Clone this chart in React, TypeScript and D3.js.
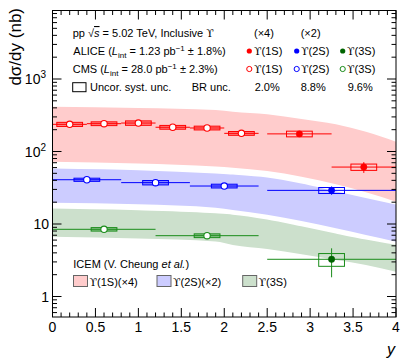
import React from 'react';
import * as d3 from 'd3';

const W = 407, H = 363;
const plotLeft = 52.5, plotRight = 396, plotTop = 10.5, plotBottom = 317;

// axis domains
const xDomain: [number, number] = [0, 4];
const yDomain: [number, number] = [0.5215, 8808];
const xMajorTicks = [0, 0.5, 1, 1.5, 2, 2.5, 3, 3.5, 4];
const xTickLabels = ['0', '0.5', '1', '1.5', '2', '2.5', '3', '3.5', '4'];
const yMajorTicks = [1, 10, 100, 1000];

// ICEM model bands
const bandY = [0, 1, 1.9, 2.1, 2.5, 2.9, 3.3, 3.65, 4];
const band1SHigh = [415, 398, 374, 354, 326, 281, 237, 187, 136];
const band1SLow = [72.3, 68.3, 62.1, 59.8, 53.8, 44.9, 35.3, 27.4, 20.3];
const band2SHigh = [60.5, 57.4, 51.6, 50.0, 45.5, 37.6, 29.4, 23.8, 19.3];
const band2SLow = [19.7, 18.7, 16.7, 15.6, 13.4, 11.0, 8.73, 7.05, 5.7];
const band3SHigh = [17.0, 16.1, 14.6, 14.0, 12.0, 9.68, 7.69, 6.35, 5.38];
const band3SLow = [6.68, 6.31, 5.74, 5.13, 4.52, 3.82, 3.18, 2.72, 2.2];

// CMS (open markers)
const cms1SY = [0.2, 0.6, 1.0, 1.4, 1.8, 2.2];
const cms1SHalfBin = [0.2, 0.2, 0.2, 0.2, 0.2, 0.2];
const cms1SVal = [237, 242, 247, 216, 211, 178];
const cms1SSyst = [0.065, 0.06, 0.07, 0.06, 0.06, 0.06];
const cms2SY = [0.4, 1.2, 2.0];
const cms2SHalfBin = [0.4, 0.4, 0.4];
const cms2SVal = [40.8, 37.2, 33.4];
const cms2SSyst = [0.05, 0.07, 0.06];
const cms3SY = [0.6, 1.8];
const cms3SHalfBin = [0.6, 0.6];
const cms3SVal = [8.45, 6.9];
const cms3SSyst = [0.055, 0.06];

// ALICE (filled markers)
const alice1SY = [2.875, 3.625];
const alice1SHalfBin = [0.375, 0.375];
const alice1SVal = [175, 61];
const alice1SStat = [0.05, 0.17];
const alice1SSyst = [0.09, 0.1];
const alice2SY = [3.25];
const alice2SHalfBin = [0.75];
const alice2SVal = [29.1];
const alice2SStat = [0.13];
const alice2SSyst = [0.095];
const alice3SY = [3.25];
const alice3SHalfBin = [0.75];
const alice3SVal = [3.26];
const alice3SStatUp = [1.36];
const alice3SStatDown = [1.42];
const alice3SSyst = [0.2];

const RED = '#ff0000';
const BLUE = '#0000ff';
const GREEN = '#1a8c1a';
const GREEN_DARK = '#006400';
const RED_BAND = '#ffcccc';
const BLUE_BAND = '#ccccff';
const GREEN_BAND = '#cce0cc';

const FONT = '"Liberation Sans", Arial, Helvetica, sans-serif';
const SERIF = '"DejaVu Serif", "Liberation Serif", serif';
const UPS = '\u03D2';

const x = d3.scaleLinear().domain(xDomain).range([plotLeft, plotRight]);
const y = d3.scaleLog().domain(yDomain).range([plotBottom, plotTop]);

function bandPath(hi: number[], lo: number[]) {
  const pts = bandY.map((v, i) => ({ v, hi: hi[i], lo: lo[i] }));
  const area = d3.area<any>().x(d => x(d.v)).y0(d => y(d.lo)).y1(d => y(d.hi)).curve(d3.curveMonotoneX);
  return area(pts) || '';
}
function edgePath(vals: number[]) {
  const pts = bandY.map((v, i) => [x(v), y(vals[i])] as [number, number]);
  return d3.line().curve(d3.curveMonotoneX)(pts) || '';
}

function CmsSeries({ ys, half, vals, syst, color }: any) {
  return (
    <g>
      {ys.map((yy: number, i: number) => {
        const cx = x(yy), cy = y(vals[i]);
        return (
          <g key={i}>
            <line x1={x(yy - half[i])} x2={x(yy + half[i])} y1={cy} y2={cy} stroke={color} strokeWidth={1} />
            <rect x={x(yy - 0.15)} width={x(0.3) - x(0)} y={y(vals[i] * (1 + syst[i]))}
              height={y(vals[i] * (1 - syst[i])) - y(vals[i] * (1 + syst[i]))}
              fill={color} fillOpacity={0.35} stroke={color} strokeWidth={1} />
            <circle cx={cx} cy={cy} r={3.2} fill="white" stroke={color} strokeWidth={1.1} />
          </g>
        );
      })}
    </g>
  );
}

function AliceSeries({ ys, half, vals, statUp, statDown, syst, color, markerColor }: any) {
  return (
    <g>
      {ys.map((yy: number, i: number) => {
        const cx = x(yy), cy = y(vals[i]);
        return (
          <g key={i}>
            <rect x={x(yy - 0.15)} width={x(0.3) - x(0)} y={y(vals[i] * (1 + syst[i]))}
              height={y(vals[i] * (1 - syst[i])) - y(vals[i] * (1 + syst[i]))}
              fill="none" stroke={color} strokeWidth={1} />
            <line x1={x(yy - half[i])} x2={x(yy + half[i])} y1={cy} y2={cy} stroke={color} strokeWidth={1} />
            <line x1={cx} x2={cx} y1={y(vals[i] + statUp[i])} y2={y(vals[i] - statDown[i])} stroke={color} strokeWidth={1} />
            <circle cx={cx} cy={cy} r={3.2} fill={markerColor} stroke={markerColor} strokeWidth={0.5} />
          </g>
        );
      })}
    </g>
  );
}

export default function App() {
  const xMinor = d3.range(0, 4.0001, 0.1);
  const yAllTicks = y.ticks();
  const isMajorY = (v: number) => Math.abs(Math.log10(v) - Math.round(Math.log10(v))) < 1e-6;
  const fs = 11;
  const colX = [249.3, 296.7, 342.7];
  const colT = [254, 301, 347];
  const ups = (label: string) => (
    <>
      <tspan fontFamily={SERIF}>{UPS}</tspan>
      <tspan>{label}</tspan>
    </>
  );
  return (
    <svg width={W} height={H} style={{ position: 'absolute', left: 0, top: 0, background: 'white' }} fontFamily={FONT}>
      {/* bands */}
      <path d={bandPath(band1SHigh, band1SLow)} fill={RED_BAND} />
      <path d={bandPath(band2SHigh, band2SLow)} fill={BLUE_BAND} />
      <path d={edgePath(band2SHigh)} fill="none" stroke="white" strokeWidth={2.5} />
      <path d={bandPath(band3SHigh, band3SLow)} fill={GREEN_BAND} />
      <path d={edgePath(band3SHigh)} fill="none" stroke="white" strokeWidth={2.5} />

      {/* data */}
      <CmsSeries ys={cms1SY} half={cms1SHalfBin} vals={cms1SVal} syst={cms1SSyst} color={RED} />
      <CmsSeries ys={cms2SY} half={cms2SHalfBin} vals={cms2SVal} syst={cms2SSyst} color={BLUE} />
      <CmsSeries ys={cms3SY} half={cms3SHalfBin} vals={cms3SVal} syst={cms3SSyst} color={GREEN} />
      <AliceSeries ys={alice1SY} half={alice1SHalfBin} vals={alice1SVal}
        statUp={alice1SVal.map((v, i) => v * alice1SStat[i])} statDown={alice1SVal.map((v, i) => v * alice1SStat[i])}
        syst={alice1SSyst} color={RED} markerColor={RED} />
      <AliceSeries ys={alice2SY} half={alice2SHalfBin} vals={alice2SVal}
        statUp={alice2SVal.map((v, i) => v * alice2SStat[i])} statDown={alice2SVal.map((v, i) => v * alice2SStat[i])}
        syst={alice2SSyst} color={BLUE} markerColor={BLUE} />
      <AliceSeries ys={alice3SY} half={alice3SHalfBin} vals={alice3SVal}
        statUp={alice3SStatUp} statDown={alice3SStatDown}
        syst={alice3SSyst} color={GREEN} markerColor={GREEN_DARK} />

      {/* frame */}
      <rect x={plotLeft} y={plotTop} width={plotRight - plotLeft} height={plotBottom - plotTop} fill="none" stroke="black" strokeWidth={1} />
      {/* x ticks */}
      {xMinor.map((v, i) => {
        const major = xMajorTicks.some(t => Math.abs(t - v) < 1e-6);
        const len = major ? 9 : 4.5;
        const px = x(v);
        return (
          <g key={'xt' + i}>
            <line x1={px} x2={px} y1={plotBottom} y2={plotBottom - len} stroke="black" strokeWidth={1} />
            <line x1={px} x2={px} y1={plotTop} y2={plotTop + len} stroke="black" strokeWidth={1} />
          </g>
        );
      })}
      {xMajorTicks.map((v, i) => (
        <text key={'xl' + i} x={x(v)} y={331.5} fontSize={14} textAnchor="middle">{xTickLabels[i]}</text>
      ))}
      {/* y ticks */}
      {yAllTicks.map((v, i) => {
        const len = isMajorY(v) ? 9 : 4.5;
        const py = y(v);
        return (
          <g key={'yt' + i}>
            <line x1={plotLeft} x2={plotLeft + len} y1={py} y2={py} stroke="black" strokeWidth={1} />
            <line x1={plotRight} x2={plotRight - len} y1={py} y2={py} stroke="black" strokeWidth={1} />
          </g>
        );
      })}
      {yMajorTicks.map((v, i) => {
        const e = Math.round(Math.log10(v));
        const py = y(v) + 5;
        if (e <= 1) return <text key={'yl' + i} x={49} y={py} fontSize={14} textAnchor="end">{String(v)}</text>;
        return (
          <text key={'yl' + i} x={46} y={py} fontSize={14} textAnchor="end">
            10<tspan dy={-6} fontSize={10}>{e}</tspan>
          </text>
        );
      })}
      {/* axis titles */}
      <text transform="translate(21,8) rotate(-90)" fontSize={17} textAnchor="end">d{'\u03C3'}/dy (nb)</text>
      <text x={395} y={355} fontSize={16} fontStyle="italic" textAnchor="end">y</text>

      {/* top legend */}
      <g fontSize={fs}>
        <text x={72.7} y={37}>
          pp <tspan>{'\u221A'}</tspan><tspan fontStyle="italic" style={{ textDecoration: 'overline' }}>s</tspan> = 5.02 TeV, Inclusive <tspan fontFamily={SERIF}>{UPS}</tspan>
        </text>
        <text x={254} y={37}>({'\u00D7'}4)</text>
        <text x={300.7} y={37}>({'\u00D7'}2)</text>

        <text x={73.3} y={55}>
          ALICE (<tspan fontStyle="italic">L</tspan><tspan fontSize={8} dy={3}>int</tspan><tspan dy={-3}> = 1.23 pb</tspan><tspan fontSize={8} dy={-4}>{'\u2212'}1</tspan><tspan dy={4}> {'\u00B1'} 1.8%)</tspan>
        </text>
        <text x={72.7} y={73}>
          CMS (<tspan fontStyle="italic">L</tspan><tspan fontSize={8} dy={3}>int</tspan><tspan dy={-3}> = 28.0 pb</tspan><tspan fontSize={8} dy={-4}>{'\u2212'}1</tspan><tspan dy={4}> {'\u00B1'} 2.3%)</tspan>
        </text>
        {[RED, BLUE, GREEN_DARK].map((c, i) => (
          <g key={'la' + i}>
            <circle cx={colX[i]} cy={51} r={2.6} fill={c} />
            <text x={colT[i]} y={55}>{ups(['(1S)', '(2S)', '(3S)'][i])}</text>
          </g>
        ))}
        {[RED, BLUE, GREEN].map((c, i) => (
          <g key={'lc' + i}>
            <circle cx={colX[i]} cy={69} r={2.6} fill="white" stroke={c} strokeWidth={1} />
            <text x={colT[i]} y={73}>{ups(['(1S)', '(2S)', '(3S)'][i])}</text>
          </g>
        ))}
        <rect x={72.7} y={82.7} width={13.3} height={9} fill="none" stroke="black" strokeWidth={1} />
        <text x={90} y={91}>Uncor. syst. unc.</text>
        <text x={191.7} y={91}>BR unc.</text>
        <text x={254.7} y={91}>2.0%</text>
        <text x={300.7} y={91}>8.8%</text>
        <text x={347.7} y={91}>9.6%</text>
      </g>

      {/* ICEM legend */}
      <g fontSize={fs}>
        <text x={73.3} y={267.5}>ICEM (V. Cheung <tspan fontStyle="italic">et al.</tspan>)</text>
        {[
          { c: RED_BAND, bx: 73.5, tx: 89.5, label: '(1S)(\u00D74)' },
          { c: BLUE_BAND, bx: 157, tx: 173, label: '(2S)(\u00D72)' },
          { c: GREEN_BAND, bx: 242.7, tx: 258.5, label: '(3S)' },
        ].map((d, i) => (
          <g key={'il' + i}>
            <rect x={d.bx} y={275.5} width={14} height={11} fill={d.c} stroke="#666" strokeWidth={1} />
            <text x={d.tx} y={285.5}>{ups(d.label)}</text>
          </g>
        ))}
      </g>
    </svg>
  );
}
